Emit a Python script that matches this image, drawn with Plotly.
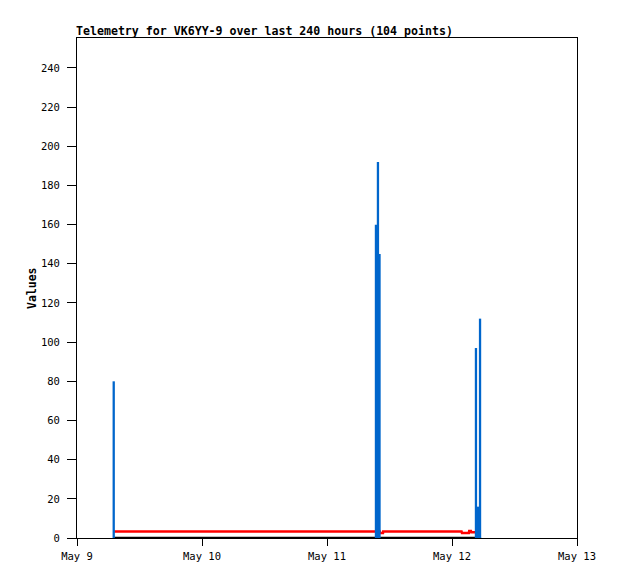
import plotly.graph_objects as go

# --- data ---
blue_times = ["2024-05-09 07:03", "2024-05-11 09:24", "2024-05-11 09:47", "2024-05-11 10:05",
              "2024-05-12 04:36", "2024-05-12 04:59", "2024-05-12 05:23"]
blue_values = [80, 160, 192, 145, 97, 16, 112]

red_times = ["2024-05-09 07:03", "2024-05-11 10:08", "2024-05-11 10:10", "2024-05-11 10:45",
             "2024-05-11 10:47", "2024-05-12 01:50", "2024-05-12 01:55", "2024-05-12 03:14",
             "2024-05-12 03:18", "2024-05-12 03:38", "2024-05-12 03:42", "2024-05-12 05:30"]
red_values = [3.3, 3.3, 2.6, 2.6, 3.3, 3.3, 2.5, 2.5, 3.6, 3.6, 2.9, 2.9]

black_times = ["2024-05-09 07:03", "2024-05-12 05:35"]
black_values = [0, 0]

x_tick_vals = ["2024-05-09", "2024-05-10", "2024-05-11", "2024-05-12", "2024-05-13"]
x_tick_text = ["May 9", "May 10", "May 11", "May 12", "May 13"]
y_tick_vals = [0, 20, 40, 60, 80, 100, 120, 140, 160, 180, 200, 220, 240]

title_text = "Telemetry for VK6YY-9 over last 240 hours (104 points)"
y_label = "Values"

# impulses built from the data
imp_x, imp_y = [], []
for t, v in zip(blue_times, blue_values):
    imp_x += [t, t, None]
    imp_y += [0, v, None]

mono = "DejaVu Sans Mono"

fig = go.Figure()
fig.add_trace(go.Scatter(x=black_times, y=black_values, mode="lines",
                         line=dict(color="#000000", width=2.5), hoverinfo="skip"))
fig.add_trace(go.Scatter(x=red_times, y=red_values, mode="lines",
                         line=dict(color="#ff0000", width=2.5, shape="linear")))
fig.add_trace(go.Scatter(x=imp_x, y=imp_y, mode="lines",
                         line=dict(color="#0066cc", width=2.3)))

# page body has an 8px margin, so the figure is sized/margined to compensate
fig.update_layout(
    width=610, height=571,
    margin=dict(l=69, r=41, t=30, b=41, autoexpand=False),
    paper_bgcolor="white", plot_bgcolor="white",
    showlegend=False,
    font=dict(family=mono, size=10, color="black"),
    annotations=[
        dict(text="<b>" + title_text + "</b>", xref="paper", yref="paper",
             x=0, y=1, xanchor="left", yanchor="bottom", yshift=-2, xshift=-3,
             showarrow=False, font=dict(family=mono, size=11.6, color="black")),
        dict(text="<b>" + y_label + "</b>", xref="paper", yref="paper",
             x=0, y=0.5, xanchor="center", yanchor="middle", xshift=-45,
             textangle=-90, showarrow=False,
             font=dict(family=mono, size=11.5, color="black")),
    ],
)
fig.update_xaxes(
    type="date", range=["2024-05-09", "2024-05-13"],
    tickvals=x_tick_vals, ticktext=x_tick_text,
    ticks="outside", ticklen=7, tickcolor="black", tickwidth=1,
    showline=True, linecolor="black", linewidth=1, mirror=True,
    showgrid=False, zeroline=False, automargin=False,
    ticklabelstandoff=1,
    tickfont=dict(family=mono, size=10.5, color="black"),
)
fig.update_yaxes(
    range=[0, 255.3],
    tickvals=y_tick_vals,
    ticks="outside", ticklen=9, tickcolor="black", tickwidth=1,
    showline=True, linecolor="black", linewidth=1, mirror=True,
    showgrid=False, zeroline=False, automargin=False,
    ticklabelstandoff=5,
    tickfont=dict(family=mono, size=10.5, color="black"),
)

fig.write_html("out.html")
